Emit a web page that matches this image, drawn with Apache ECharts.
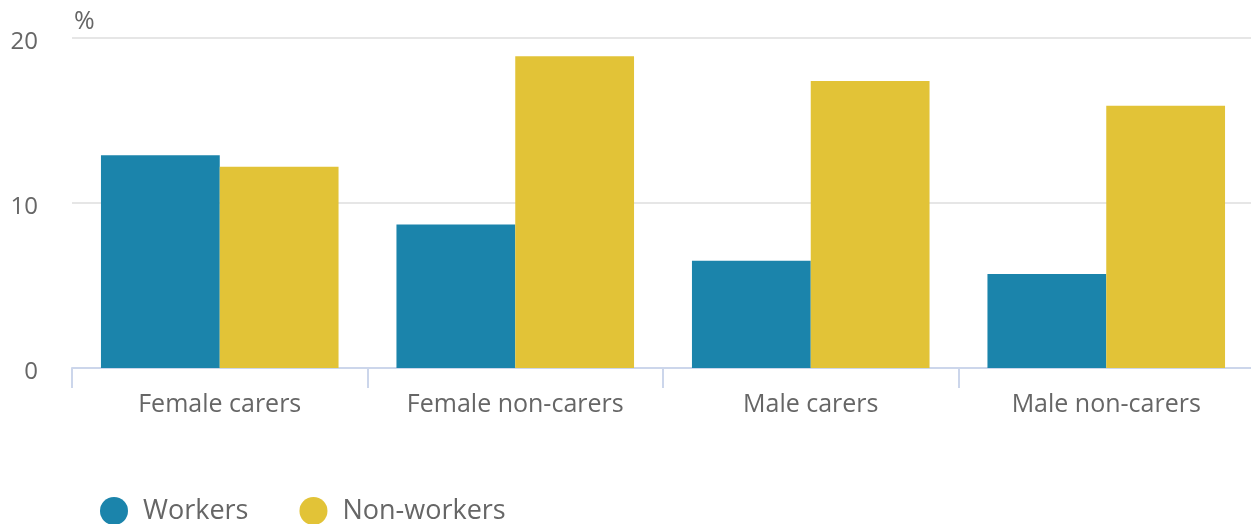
<!DOCTYPE html>
<html><head><meta charset="utf-8">
<script src="https://cdn.jsdelivr.net/npm/echarts@6/dist/echarts.min.js"></script>
<style>html,body{margin:0;padding:0;background:#fff}#c{width:1251px;height:524px}</style>
</head><body><div id="c"></div>
<script>
const categories = ['Female carers', 'Female non-carers', 'Male carers', 'Male non-carers'];
const workers = [12.9, 8.7, 6.5, 5.7];
const nonWorkers = [12.2, 18.9, 17.4, 15.9];
const seriesNames = ['Workers', 'Non-workers'];
const yTicks = [0, 10, 20];

const font = '"Open Sans", sans-serif';
const chart = echarts.init(document.getElementById('c'));
chart.setOption({
  animation: false,
  textStyle: { fontFamily: font },
  grid: { left: 72, width: 1182, top: 38, height: 330, outerBoundsMode: 'none', containLabel: false },
  legend: {
    left: 100, bottom: -1, padding: 0, icon: 'circle', itemWidth: 28, itemHeight: 28, itemGap: 51,
    textStyle: { fontFamily: font, fontSize: 27, color: '#666', padding: [0, 0, 0, 10] },
    data: seriesNames
  },
  xAxis: {
    type: 'category', data: categories,
    axisLine: { lineStyle: { color: '#ccd6eb', width: 2 } },
    axisTick: { show: true, length: 20, lineStyle: { color: '#ccd6eb', width: 2 } },
    axisLabel: { fontFamily: font, fontSize: 25, color: '#666', margin: 24 }
  },
  yAxis: {
    type: 'value', min: yTicks[0], max: yTicks[yTicks.length - 1], interval: 10,
    name: '%', nameLocation: 'end', nameGap: 4,
    nameTextStyle: { fontFamily: font, fontSize: 25, color: '#666', align: 'left', verticalAlign: 'bottom', padding: [0, 0, 0, 2] },
    axisLine: { show: false }, axisTick: { show: false },
    axisLabel: { fontFamily: font, fontSize: 24, color: '#666', margin: 34, verticalAlign: 'top', lineHeight: 8 },
    splitLine: { lineStyle: { color: '#e6e6e6', width: 2 } }
  },
  series: [
    { name: seriesNames[0], type: 'bar', data: workers, barGap: '0%', barCategoryGap: '19.6%',
      itemStyle: { color: '#1b84ab' } },
    { name: seriesNames[1], type: 'bar', data: nonWorkers,
      itemStyle: { color: '#e2c337' } }
  ]
});
</script></body></html>
